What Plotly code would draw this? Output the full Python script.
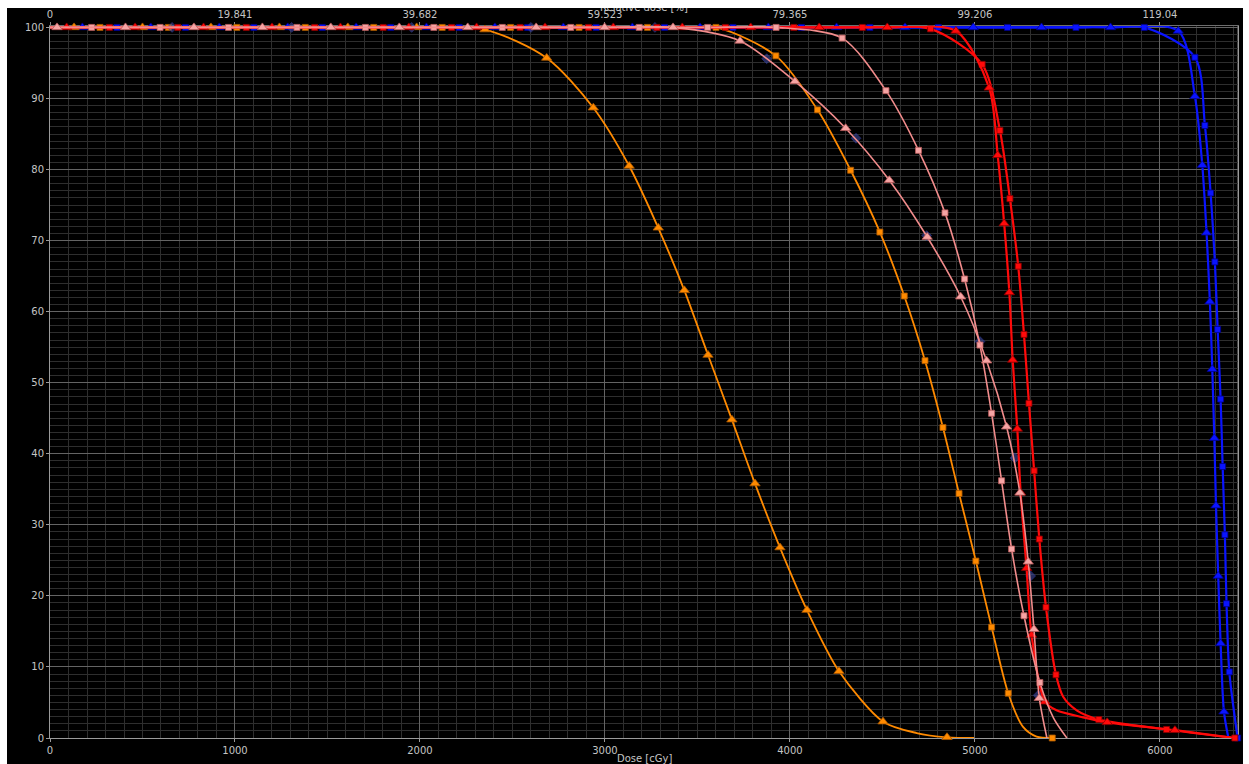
import plotly.graph_objects as go

# ---------------- data ----------------
dose_ticks = [0, 1000, 2000, 3000, 4000, 5000, 6000]
rel_dose_labels = ["0", "19.841", "39.682", "59.523", "79.365", "99.206", "119.04"]
vol_ticks = [0, 10, 20, 30, 40, 50, 60, 70, 80, 90, 100]

# orange, triangles
orange_tri_dose = [130, 500, 870, 1240, 1610, 1982, 2351, 2685, 2937, 3131, 3288, 3429,
                   3557, 3686, 3811, 3946, 4092, 4265, 4503, 4849]
orange_tri_vol = [100, 100, 100, 100, 100, 100, 99.7, 95.7, 88.7, 80.5, 71.8, 63.0,
                  53.9, 44.8, 35.8, 26.8, 18.0, 9.4, 2.3, 0.1]
orange_tri_line_dose = [0, 4685, 4995]
orange_tri_line_vol = [100, 0.7, 0]

# orange, squares
orange_sq_dose = [270, 640, 1010, 1380, 1750, 2120, 2490, 2860, 3230, 3600, 3924, 4149,
                  4328, 4486, 4618, 4730, 4827, 4914, 5005, 5090, 5180, 5418]
orange_sq_vol = [100, 100, 100, 100, 100, 100, 100, 100, 100, 100, 96.0, 88.4,
                 79.9, 71.2, 62.2, 53.1, 43.7, 34.4, 24.9, 15.6, 6.3, 0]
orange_sq_line_dose = [0, 5259, 5333]
orange_sq_line_vol = [100, 1.6, 0.2]

# pink, squares
pink_sq_dose = [225, 595, 965, 1335, 1705, 2075, 2445, 2815, 3185, 3555, 3925, 4282,
                4519, 4695, 4838, 4944, 5027, 5090, 5144, 5198, 5265, 5351]
pink_sq_vol = [100, 100, 100, 100, 100, 100, 100, 100, 100, 100, 100, 98.5,
               91.1, 82.7, 73.9, 64.6, 55.3, 45.7, 36.2, 26.6, 17.2, 7.8]
pink_sq_line_dose = [0, 5425, 5497]
pink_sq_line_vol = [100, 2.8, 0]

# pink, triangles
pink_tri_dose = [38, 408, 778, 1148, 1518, 1888, 2258, 2628, 2998, 3368, 3730, 4027,
                 4301, 4537, 4742, 4923, 5063, 5171, 5243, 5288, 5319, 5348]
pink_tri_vol = [100, 100, 100, 100, 100, 100, 100, 100, 100, 100, 98.1, 92.4,
                85.8, 78.5, 70.5, 62.1, 53.1, 43.8, 34.5, 24.8, 15.3, 5.6]
pink_tri_line_dose = [0, 5389]
pink_tri_line_vol = [100, 0]

# red, triangles
red_tri_dose = [90, 460, 830, 1200, 1570, 1940, 2306, 2676, 3045, 3418, 3788, 4158, 4526,
                4897, 5077, 5123, 5158, 5186, 5204, 5229, 5247, 5279, 5306, 5378, 5715, 6081]
red_tri_vol = [100, 100, 100, 100, 100, 100, 100, 100, 100, 100, 100, 100, 100,
               99.5, 91.5, 82.0, 72.4, 62.7, 53.2, 43.5, 34.5, 23.9, 14.5, 5.1, 2.2, 1.1]
red_tri_line_dose = [0, 5441, 5585, 6405]
red_tri_line_vol = [100, 3.9, 2.9, 0]

# red, squares
red_sq_dose = [321, 691, 1061, 1431, 1801, 2171, 2541, 2911, 3281, 3651, 4021, 4391, 4760,
               5039, 5135, 5189, 5234, 5265, 5292, 5320, 5348, 5384, 5438, 5670, 6036, 6405]
red_sq_vol = [100, 100, 100, 100, 100, 100, 100, 100, 100, 100, 100, 100, 99.8,
              94.8, 85.5, 75.9, 66.4, 56.8, 47.1, 37.6, 28.0, 18.4, 8.9, 2.6, 1.2, 0]
red_sq_line_dose = [0, 5477, 5550]
red_sq_line_vol = [100, 5.8, 3.9]

# blue, triangles
blue_tri_dose = [175, 545, 915, 1285, 1655, 2035, 2405, 2775, 3148, 3514, 3883, 4252, 4622,
                 4991, 5360, 5733, 6099, 6189, 6229, 6252, 6270, 6283, 6294, 6303, 6315, 6328, 6346]
blue_tri_vol = [100, 100, 100, 100, 100, 100, 100, 100, 100, 100, 100, 100, 100,
                100, 100, 100, 99.5, 90.3, 80.6, 71.1, 61.4, 51.9, 42.2, 32.7, 22.8, 13.3, 3.7]
blue_tri_line_dose = [0, 6370]
blue_tri_line_vol = [100, 0]

# blue, squares
blue_sq_dose = [362, 732, 1102, 1472, 1842, 2212, 2582, 2952, 3322, 3692, 4062, 4432, 4802,
                5176, 5546, 5915, 6189, 6243, 6274, 6297, 6312, 6328, 6339, 6351, 6360, 6375, 6420]
blue_sq_vol = [100, 100, 100, 100, 100, 100, 100, 100, 100, 100, 100, 100, 100,
               100, 100, 100, 95.8, 86.2, 76.7, 67.0, 57.5, 47.7, 38.2, 28.6, 18.9, 9.3, 0]
blue_sq_line_dose = [0]
blue_sq_line_vol = [100]

# faint dark-blue marks (mostly hidden series)
faint_dose = [660, 1306, 1955, 2600, 3270, 3874, 4357, 4739, 5027, 5216, 5301, 5342]
faint_vol = [100, 100, 100, 100, 100, 95.6, 84.4, 70.7, 55.8, 39.4, 22.8, 6.0]

X_MAX = 6422

# ---------------- figure ----------------
fig = go.Figure()


def merged(md, mv, ld, lv):
    pts = sorted(zip(list(md) + list(ld), list(mv) + list(lv)), key=lambda p: p[0])
    return [p[0] for p in pts], [p[1] for p in pts]


def add_series(md, mv, ld, lv, color, mcolor, edge, symbol, msize, lwidth):
    xs, ys = merged(md, mv, ld, lv)
    fig.add_trace(go.Scatter(x=xs, y=ys, mode="lines",
                             line=dict(color=color, width=lwidth, shape="spline", smoothing=0.8),
                             hoverinfo="skip", showlegend=False))
    fig.add_trace(go.Scatter(x=md, y=mv, mode="markers", cliponaxis=False,
                             marker=dict(symbol=symbol, size=msize, color=mcolor,
                                         line=dict(color=edge, width=0.8)),
                             hoverinfo="skip", showlegend=False))


BLUE, BLUE_E = "#0a14ff", "#00008a"
ORANGE, ORANGE_E = "#ff8a00", "#a85800"
RED, RED_E = "#ff0a0a", "#8a0000"
PINK, PINK_E = "#f28c8c", "#b85a5a"
PINK_M = "#f6a4a4"

add_series(blue_sq_dose, blue_sq_vol, blue_sq_line_dose, blue_sq_line_vol, BLUE, BLUE, BLUE_E, "square", 6, 2.2)
add_series(blue_tri_dose, blue_tri_vol, blue_tri_line_dose, blue_tri_line_vol, BLUE, BLUE, BLUE_E, "triangle-up", 9, 2.2)
add_series(orange_sq_dose, orange_sq_vol, orange_sq_line_dose, orange_sq_line_vol, ORANGE, ORANGE, ORANGE_E, "square", 6, 1.8)
add_series(orange_tri_dose, orange_tri_vol, orange_tri_line_dose, orange_tri_line_vol, ORANGE, ORANGE, ORANGE_E, "triangle-up", 9, 1.8)

fig.add_trace(go.Scatter(x=faint_dose, y=faint_vol, mode="markers", cliponaxis=False,
                         marker=dict(symbol="square", size=7, angle=45,
                                     color="rgba(70,80,170,0.55)",
                                     line=dict(color="rgba(40,50,140,0.6)", width=1)),
                         hoverinfo="skip", showlegend=False))

add_series(red_sq_dose, red_sq_vol, red_sq_line_dose, red_sq_line_vol, RED, RED, RED_E, "square", 6, 2.2)
add_series(red_tri_dose, red_tri_vol, red_tri_line_dose, red_tri_line_vol, RED, RED, RED_E, "triangle-up", 9, 2.2)
add_series(pink_sq_dose, pink_sq_vol, pink_sq_line_dose, pink_sq_line_vol, PINK, PINK_M, PINK_E, "square", 6, 1.6)
add_series(pink_tri_dose, pink_tri_vol, pink_tri_line_dose, pink_tri_line_vol, PINK, PINK_M, PINK_E, "triangle-up", 9, 1.6)

# empty trace so that the top (relative dose) axis is drawn
fig.add_trace(go.Scatter(x=[], y=[], xaxis="x2", yaxis="y", showlegend=False, hoverinfo="skip"))

FONT_FAMILY = "DejaVu Sans, Verdana, sans-serif"
TICK_FONT = dict(family=FONT_FAMILY, size=10, color="#c4c4c4")
MAJOR = "#646464"
MINOR = "#2e2e2e"

fig.update_layout(
    width=1236, height=756,
    margin=dict(l=43, r=5, t=18, b=26, pad=0),
    paper_bgcolor="#000000",
    plot_bgcolor="#000000",
    showlegend=False,
    xaxis=dict(
        range=[0, X_MAX], tickvals=dose_ticks, ticktext=[str(v) for v in dose_ticks],
        showgrid=True, gridcolor=MAJOR, gridwidth=1,
        minor=dict(dtick=100, tick0=0, showgrid=True, gridcolor=MINOR, gridwidth=1),
        showline=True, linecolor="#9a9a9a", linewidth=1, mirror=False,
        ticks="outside", ticklen=3, tickcolor="#9a9a9a",
        tickfont=TICK_FONT, zeroline=False, automargin=False, layer="below traces",
    ),
    xaxis2=dict(
        overlaying="x", side="top", range=[0, X_MAX],
        tickvals=dose_ticks, ticktext=rel_dose_labels,
        showgrid=False, showline=True, linecolor="#6e6e6e", linewidth=1,
        ticks="outside", ticklen=3, tickcolor="#8a8a8a",
        tickfont=TICK_FONT, zeroline=False, automargin=False, layer="below traces",
    ),
    yaxis=dict(
        range=[0, 100.2], tickvals=vol_ticks,
        showgrid=True, gridcolor=MAJOR, gridwidth=1,
        minor=dict(dtick=1, tick0=0, showgrid=True, gridcolor=MINOR, gridwidth=1),
        showline=True, linecolor="#9a9a9a", linewidth=1, mirror=True,
        ticks="outside", ticklen=3, tickcolor="#9a9a9a",
        tickfont=TICK_FONT, zeroline=False, automargin=False, layer="below traces",
    ),
    annotations=[
        dict(text="Dose [cGy]", xref="paper", yref="paper", x=0.5, y=0,
             xanchor="center", yanchor="middle", yshift=-20, showarrow=False,
             font=dict(family=FONT_FAMILY, size=10, color="#c4c4c4")),
        dict(text="Relative dose [%]", xref="paper", yref="paper", x=0.5, y=1,
             xanchor="center", yanchor="middle", yshift=19, showarrow=False,
             font=dict(family=FONT_FAMILY, size=10, color="#c4c4c4")),
    ],
)

# right border of the plot area
fig.add_shape(type="line", xref="paper", yref="paper", x0=1, x1=1, y0=0, y1=1,
              line=dict(color="#8a8a8a", width=1), layer="below")

fig.write_html(
    "out.html",
    config={"displayModeBar": False},
    post_script="document.body.style.margin='8px 0 0 7px';document.body.style.overflow='hidden';document.body.style.background='#ffffff';",
)
